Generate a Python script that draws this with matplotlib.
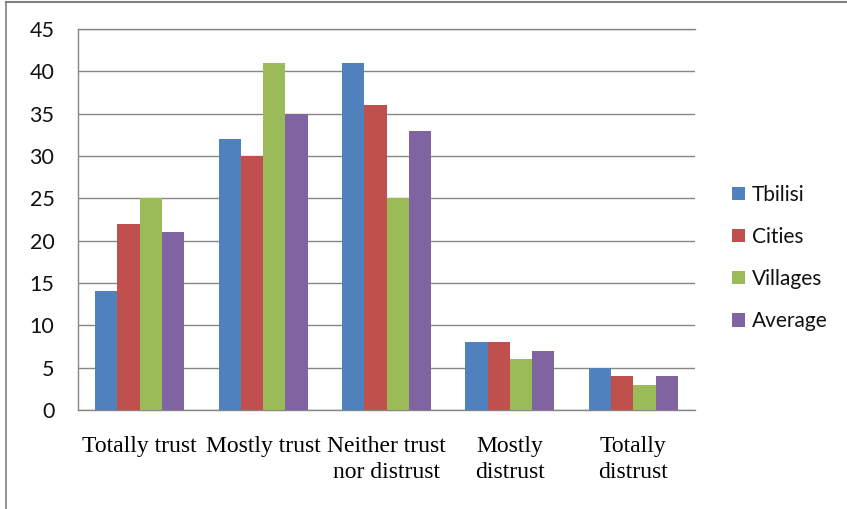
import matplotlib
matplotlib.use("Agg")
import matplotlib.pyplot as plt
import numpy as np
from matplotlib.patches import Patch
from matplotlib.lines import Line2D

categories = ["Totally trust", "Mostly trust", "Neither trust\nnor distrust", "Mostly\ndistrust", "Totally\ndistrust"]
series_names = ["Tbilisi", "Cities", "Villages", "Average"]
tbilisi = [14, 32, 41, 8, 5]
cities = [22, 30, 36, 8, 4]
villages = [25, 41, 25, 6, 3]
average = [21, 35, 33, 7, 4]
yticks = [0, 5, 10, 15, 20, 25, 30, 35, 40, 45]

colors = ["#4F81BD", "#C0504D", "#9BBB59", "#8064A2"]
series = [tbilisi, cities, villages, average]

fig = plt.figure(figsize=(8.47, 5.09), dpi=100)
ax = fig.add_axes([78/847, 1-410/509, (695-78)/847, (410-29)/509])

x = np.arange(len(categories))
w = 0.18
for i, (vals, c) in enumerate(zip(series, colors)):
    ax.bar(x + (i - 1.5) * w, vals, width=w, color=c, zorder=3, linewidth=0)

ax.set_xlim(-0.5, len(categories) - 0.5)
ax.set_ylim(0, 45)
ax.set_yticks(yticks)
ax.set_yticklabels([str(v) for v in yticks], fontfamily="Lato", fontsize=15.5, color="#111111")
ax.set_xticks(x)
ax.set_xticklabels(categories, fontfamily="Liberation Serif", fontsize=17, color="black", linespacing=1.27)
ax.tick_params(axis="both", length=0)
ax.tick_params(axis="x", pad=19)
ax.tick_params(axis="y", pad=17)
ax.yaxis.grid(True, color="#868686", linewidth=1.0, zorder=0)
for s in ["left", "bottom", "top"]:
    ax.spines[s].set_color("#868686")
    ax.spines[s].set_linewidth(1.0)
ax.spines["right"].set_visible(False)

handles = [Patch(facecolor=c, edgecolor="none") for c in colors]
leg = fig.legend(handles, series_names, loc="upper left", bbox_to_anchor=(732/847, 1-185/509),
                 frameon=False, prop={"family": "Lato", "size": 15},
                 handlelength=0.6, handleheight=0.6, handletextpad=0.35, labelspacing=1.06,
                 borderaxespad=0, borderpad=0)
for t in leg.get_texts():
    t.set_color("#111111")

fig.add_artist(Line2D([6/847, 6/847], [0, 1-2/509], transform=fig.transFigure, color="#808080", linewidth=1.2))
fig.add_artist(Line2D([6/847, 1], [1-2/509, 1-2/509], transform=fig.transFigure, color="#808080", linewidth=1.5))

fig.savefig("out.png", dpi=100, facecolor="white")
